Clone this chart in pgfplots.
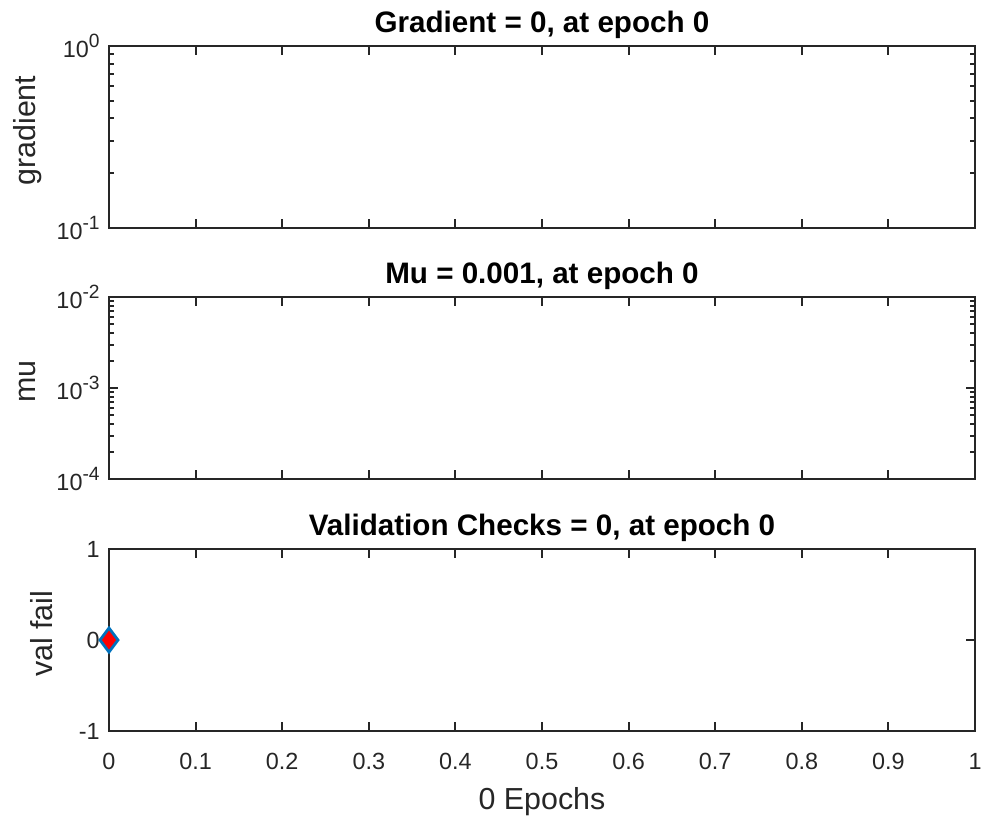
\documentclass[border=0pt]{standalone}
\usepackage{pgfplots}
\pgfplotsset{compat=1.18}
\usepackage{fontspec}
\setmainfont{Liberation Sans}
\definecolor{axgray}{RGB}{38,38,38}
\definecolor{mblue}{RGB}{0,114,189}
\newcommand{\sci}[1]{10\raisebox{4.8pt}{\fontsize{9.6}{10}\selectfont #1}}
\pgfplotsset{
  mystyle/.style={
    scale only axis, width=433pt, height=91pt,
    xmin=0, xmax=1,
    axis line style={axgray, line width=1pt},
    every tick/.style={axgray, line width=1pt},
    major tick length=4.5pt, minor tick length=2.5pt,
    tick align=inside, xtick pos=both, ytick pos=both,
    xtick={0,0.1,0.2,0.3,0.4,0.5,0.6,0.7,0.8,0.9,1},
    tick label style={font=\fontsize{11.7}{12}\selectfont, text=axgray},
    yticklabel style={inner sep=0pt, anchor=east, xshift=-4.5pt},
    title style={at={(axis description cs:0.5,1)}, anchor=base, yshift=1pt, font=\fontsize{14.8}{15}\selectfont\bfseries, text=black},
    ylabel style={font=\fontsize{15.2}{16}\selectfont, text=axgray, anchor=base},
    xlabel style={font=\fontsize{15.2}{16}\selectfont, text=axgray},
  }
}
\begin{document}
\begin{tikzpicture}
\useasboundingbox (0,0) rectangle (492pt,-409.5pt);
% top: gradient
\begin{axis}[mystyle, at={(54.5pt,-23pt)}, anchor=north west,
  ymode=log, ymin=0.1, ymax=1,
  ytick={0.1,1}, yticklabels={\sci{-1},\sci{0}},
  minor ytick={0.2,0.3,0.4,0.5,0.6,0.7,0.8,0.9},
  xticklabels={},
  title={Gradient = 0, at epoch 0},
  ylabel={gradient},
  ylabel style={at={(axis description cs:-0.0843,0.535)}},
]
\end{axis}
% middle: mu
\begin{axis}[mystyle, at={(54.5pt,-148.5pt)}, anchor=north west,
  ymode=log, ymin=1e-4, ymax=1e-2,
  ytick={1e-4,1e-3,1e-2}, yticklabels={\sci{-4},\sci{-3},\sci{-2}},
  minor ytick={2e-4,3e-4,4e-4,5e-4,6e-4,7e-4,8e-4,9e-4,2e-3,3e-3,4e-3,5e-3,6e-3,7e-3,8e-3,9e-3},
  xticklabels={},
  title={Mu = 0.001, at epoch 0},
  ylabel={mu},
  ylabel style={at={(axis description cs:-0.0843,0.535)}},
]
\end{axis}
% bottom: validation checks
\begin{axis}[mystyle, at={(54.5pt,-274.5pt)}, anchor=north west,
  ymin=-1, ymax=1,
  ytick={-1,0,1}, yticklabels={-1,0,1},
  xticklabels={0,0.1,0.2,0.3,0.4,0.5,0.6,0.7,0.8,0.9,1},
  xticklabel style={anchor=base, yshift=-19pt},
  title={Validation Checks = 0, at epoch 0},
  ylabel={val fail},
  ylabel style={at={(axis description cs:-0.0647,0.535)}},
  xlabel={0 Epochs},
  xlabel style={at={(axis description cs:0.5,0)}, anchor=base, yshift=-39pt},
  clip=false,
]
\addplot[only marks, mark=diamond*, mark size=6pt, mark options={draw=mblue, fill=red, line width=1.4pt}] coordinates {(0,0)};
\end{axis}
\end{tikzpicture}
\end{document}
